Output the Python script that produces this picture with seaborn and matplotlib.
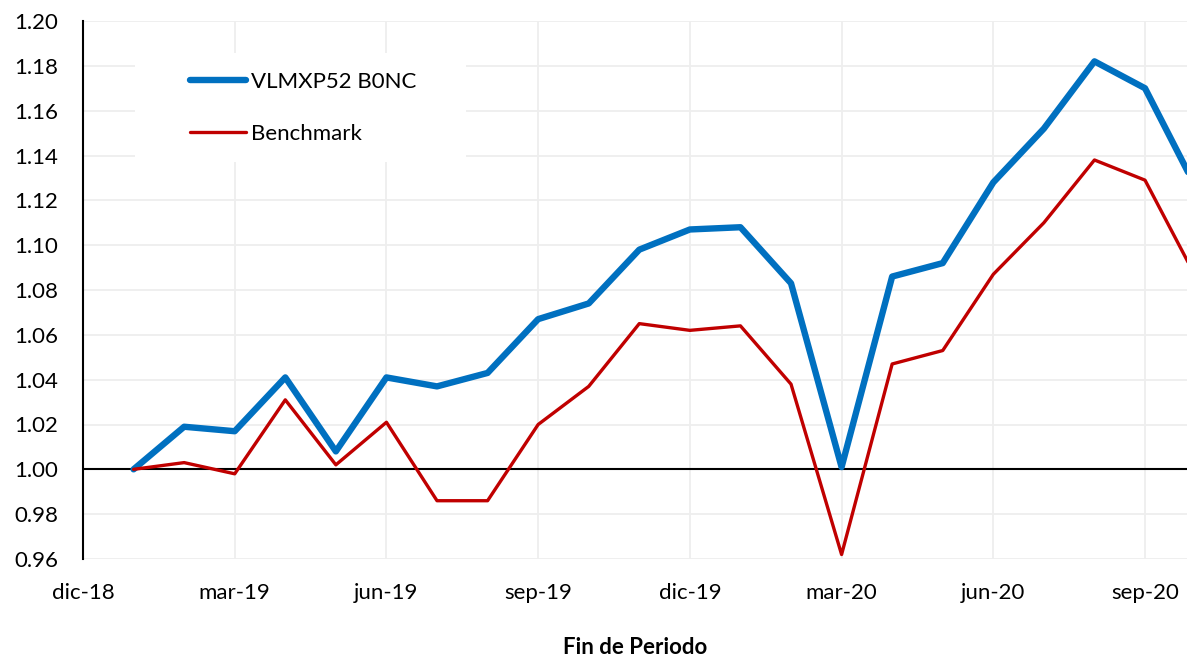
import numpy as np
import pandas as pd
import matplotlib
matplotlib.use('Agg')
import matplotlib.pyplot as plt
import seaborn as sns
from matplotlib.patches import Rectangle

# =========================
# DATA
# =========================
meses = ['ene-19', 'feb-19', 'mar-19', 'abr-19', 'may-19', 'jun-19', 'jul-19', 'ago-19',
         'sep-19', 'oct-19', 'nov-19', 'dic-19', 'ene-20', 'feb-20', 'mar-20', 'abr-20',
         'may-20', 'jun-20', 'jul-20', 'ago-20', 'sep-20', 'oct-20']
fondo = [1.000, 1.019, 1.017, 1.041, 1.008, 1.041, 1.037, 1.043, 1.067, 1.074, 1.098,
         1.107, 1.108, 1.083, 1.001, 1.086, 1.092, 1.128, 1.152, 1.182, 1.170, 1.126]
benchmark = [1.000, 1.003, 0.998, 1.031, 1.002, 1.021, 0.986, 0.986, 1.020, 1.037, 1.065,
             1.062, 1.064, 1.038, 0.962, 1.047, 1.053, 1.087, 1.110, 1.138, 1.129, 1.086]
tick_labels = ['dic-18', 'mar-19', 'jun-19', 'sep-19', 'dic-19', 'mar-20', 'jun-20', 'sep-20']

df = pd.DataFrame({
    'pos': np.arange(1, len(meses) + 1),
    'VLMXP52 B0NC': fondo,
    'Benchmark': benchmark,
})
largo = df.melt(id_vars='pos', var_name='serie', value_name='valor')

# =========================
# GRAFICO
# =========================
sns.set_style('white')
plt.rcParams['font.family'] = ['Lato', 'DejaVu Sans']
plt.rcParams['text.color'] = 'black'
plt.rcParams['axes.labelcolor'] = 'black'

W, H = 1187, 658
fig = plt.figure(figsize=(W / 100, H / 100), dpi=100)
ax = fig.add_axes([83 / W, 1 - 559 / H, 1 - 83 / W, (559 - 21) / H])

sns.lineplot(data=largo, x='pos', y='valor', hue='serie', size='serie',
             palette={'VLMXP52 B0NC': '#0070C0', 'Benchmark': '#C00000'},
             sizes={'VLMXP52 B0NC': 4.6, 'Benchmark': 2.4},
             ax=ax, zorder=3)

ax.set_xlim(0, 21.83)
ax.set_ylim(0.96, 1.20)
ax.set_xticks(np.arange(0, 22, 3))
ax.set_xticklabels(tick_labels)
ax.set_yticks(np.arange(0.96, 1.2001, 0.02))
ax.yaxis.set_major_formatter(matplotlib.ticker.FormatStrFormatter('%.2f'))
ax.tick_params(axis='both', labelsize=16, length=0, colors='black')
ax.tick_params(axis='x', pad=17)
ax.tick_params(axis='y', pad=18)

ax.set_axisbelow(True)
ax.grid(True, color='#eeeeee', linewidth=1.3)
ax.axhline(1.0, color='black', linewidth=1.5, zorder=2)
for lado in ['top', 'right', 'bottom']:
    ax.spines[lado].set_visible(False)
ax.spines['left'].set_color('black')
ax.spines['left'].set_linewidth(1.5)

ax.set_ylabel('')
ax.set_xlabel('Fin de Periodo', fontsize=16, fontweight='bold', labelpad=25)

# fondo blanco de la leyenda (tapa la cuadricula)
ax.add_patch(Rectangle(((135 - 83) / 1104, (559 - 162) / 538), 331 / 1104, 109 / 538,
                       transform=ax.transAxes, facecolor='white', edgecolor='none', zorder=1))

handles, labels = ax.get_legend_handles_labels()
leg = ax.legend(handles, labels, loc='upper left', bbox_to_anchor=((190 - 83) / 1104, (559 - 72) / 538),
                frameon=False, fontsize=16, handlelength=2.5, handletextpad=0.25,
                labelspacing=1.45, borderpad=0, borderaxespad=0)
leg.set_zorder(4)

fig.savefig('out.png', dpi=100)
